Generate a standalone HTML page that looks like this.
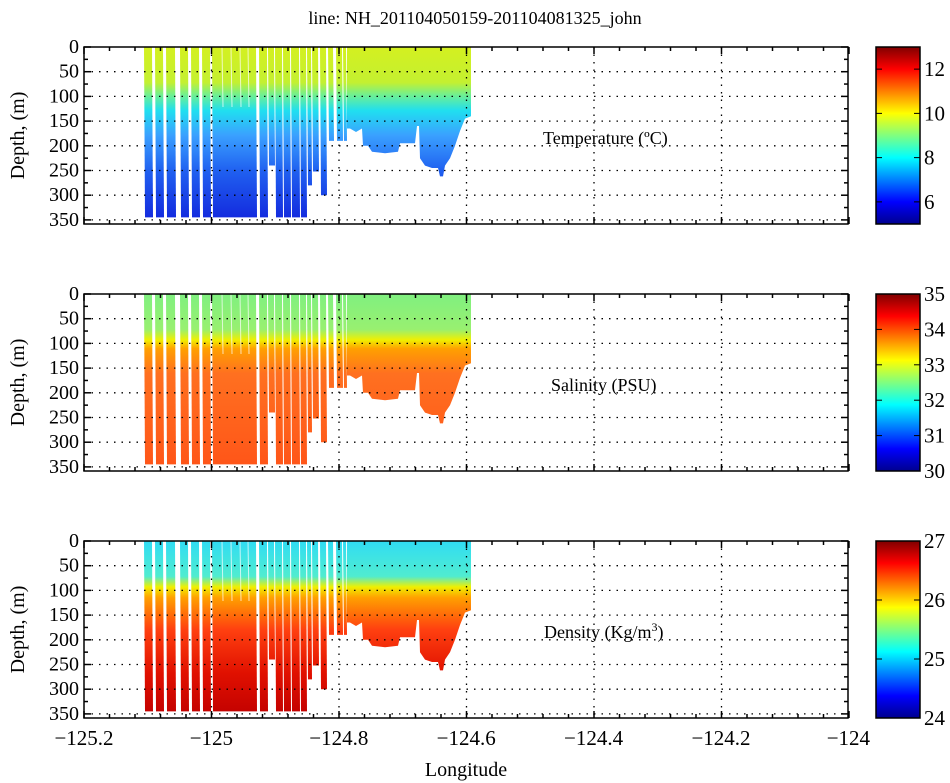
<!DOCTYPE html>
<html><head><meta charset="utf-8"><style>
html,body{margin:0;padding:0;background:#fff;}
svg{display:block;font-family:"Liberation Serif",serif;}
svg text{font-family:"Liberation Serif",serif;}
</style></head><body>
<svg id="s" width="950" height="783" xmlns="http://www.w3.org/2000/svg">
<defs>
<linearGradient id="jet" x1="0" y1="1" x2="0" y2="0">
<stop offset="0" stop-color="#00008f"/><stop offset="0.125" stop-color="#0000ff"/><stop offset="0.375" stop-color="#00ffff"/><stop offset="0.625" stop-color="#ffff00"/><stop offset="0.875" stop-color="#ff0000"/><stop offset="1" stop-color="#800000"/>
</linearGradient>
<linearGradient id="gT" gradientUnits="userSpaceOnUse" x1="0" y1="0" x2="0" y2="177">
<stop offset="0" stop-color="#d4f020"/><stop offset="0.2" stop-color="#c4f030"/><stop offset="0.27" stop-color="#70f090"/><stop offset="0.36" stop-color="#20dff0"/><stop offset="0.5" stop-color="#3aa0ff"/><stop offset="0.7" stop-color="#2060f0"/><stop offset="1" stop-color="#1224dc"/>
</linearGradient>
<linearGradient id="gS" gradientUnits="userSpaceOnUse" x1="0" y1="0" x2="0" y2="177">
<stop offset="0" stop-color="#80f080"/><stop offset="0.2" stop-color="#98f070"/><stop offset="0.26" stop-color="#f0f000"/><stop offset="0.31" stop-color="#ffa000"/><stop offset="0.45" stop-color="#ff7020"/><stop offset="1" stop-color="#ff5418"/>
</linearGradient>
<linearGradient id="gD" gradientUnits="userSpaceOnUse" x1="0" y1="0" x2="0" y2="177">
<stop offset="0" stop-color="#30dcf4"/><stop offset="0.2" stop-color="#50ecd0"/><stop offset="0.26" stop-color="#f0f000"/><stop offset="0.32" stop-color="#ffa000"/><stop offset="0.5" stop-color="#ff4010"/><stop offset="0.75" stop-color="#e01000"/><stop offset="1" stop-color="#c00000"/>
</linearGradient>
</defs>
<text x="475" y="24" font-size="18" text-anchor="middle" font-family="Liberation Serif, serif">line: NH_201104050159-201104081325_john</text>
</svg>
<script>
(function(){
var s=document.getElementById('s'),NS='http://www.w3.org/2000/svg';
function el(t,a,p,txt){var e=document.createElementNS(NS,t);for(var k in a)e.setAttribute(k,a[k]);if(t=='text'||t=='tspan')e.setAttribute('font-family','Liberation Serif, serif');if(txt!==undefined)e.textContent=txt;(p||s).appendChild(e);return e;}
var L=84,R=848,H=177,k=0.494;
function X(lon){return L+(lon+125.2)*637.5;}
var stripes=[[144,152,345],[155,163,345],[166,175,345],[180,188,345],[191,199,345],[202,210,345],[212,256,345],[259,267,345],[268,274,240],[275,282,345],[283,290,345],[291,299,345],[300,306,345],[307,311,280],[312,318,252],[320,326,300],[328,333,190],[336,342,190],[343,346,190]];
var prof=[[347,0],[471,0],[471,140],[465,145],[460,170],[455,200],[450,225],[445,240],[443,262],[440,262],[438,245],[432,245],[425,240],[420,225],[419,160],[417,160],[415,195],[400,195],[398,212],[385,215],[372,212],[368,200],[363,200],[362,165],[356,172],[350,165],[347,165]];
var panels=[{top:47,g:'gT',lab:'Temperature (\u00BAC)',lx:543,cb:[5,13,[12,10,8,6]]},
{top:294,g:'gS',lab:'Salinity (PSU)',lx:551,cb:[30,35,[35,34,33,32,31,30]]},
{top:541,g:'gD',lab:'Density (Kg/m',sup:true,lx:544,cb:[24,27,[27,26,25,24]]}];
panels.forEach(function(p,i){
 var g=el('g',{transform:'translate(0,'+p.top+')'});
 stripes.forEach(function(st){el('polygon',{points:st[0]+',0 '+st[1]+',0 '+(st[1]+1)+','+(st[2]*k)+' '+(st[0]+1)+','+(st[2]*k),fill:'url(#'+p.g+')'},g);});
 el('polygon',{points:prof.map(function(q){return q[0]+','+(q[1]*k).toFixed(1)}).join(' '),fill:'url(#'+p.g+')'},g);
 [222,231,240,248].forEach(function(x){el('line',{x1:x,y1:0,x2:x+1,y2:60,stroke:'#fff','stroke-width':1,opacity:0.7},g);});
 for(var d=50;d<=350;d+=50)el('line',{x1:L,x2:R,y1:d*k,y2:d*k,stroke:'#000','stroke-dasharray':'1.5,6','stroke-width':1.3},g);
 for(var j=1;j<6;j++){var x=X(-125.2+0.2*j);el('line',{x1:x,x2:x,y1:0,y2:H,stroke:'#000','stroke-dasharray':'1.5,6','stroke-width':1.3},g);}
 el('rect',{x:L,y:0,width:R-L,height:H,fill:'none',stroke:'#000','stroke-width':1.5},g);
 for(var d=0;d<=350;d+=25){var y=d*k,len=d%50?4:7;el('line',{x1:L,x2:L+len,y1:y,y2:y,stroke:'#000','stroke-width':1.5},g);el('line',{x1:R,x2:R-len,y1:y,y2:y,stroke:'#000','stroke-width':1.5},g);
  if(d%50==0)el('text',{x:L-5,y:y+6,'font-size':20,'text-anchor':'end'},g,String(d));}
 for(var j=0;j<=30;j++){var x=L+j*25.5,len=j%5?4:7;el('line',{x1:x,x2:x,y1:0,y2:len,stroke:'#000','stroke-width':1.5},g);el('line',{x1:x,x2:x,y1:H,y2:H-len,stroke:'#000','stroke-width':1.5},g);}
 el('text',{x:24,y:H/2,'font-size':20,'text-anchor':'middle',transform:'rotate(-90 24 '+(H/2)+')'},g,'Depth, (m)');
 var t=el('text',{x:p.lx,y:97,'font-size':18},g,p.lab);
 if(p.sup){el('tspan',{dy:-7,'font-size':12},t,'3');el('tspan',{dy:7,'font-size':18},t,')');}
 el('rect',{x:876,y:0,width:44,height:H,fill:'url(#jet)',stroke:'#000','stroke-width':1.5},g);
 var mn=p.cb[0],mx=p.cb[1];p.cb[2].forEach(function(v){var y=H-(v-mn)/(mx-mn)*H;el('line',{x1:920,x2:914,y1:y,y2:y,stroke:'#000'},g);el('line',{x1:876,x2:882,y1:y,y2:y,stroke:'#000'},g);el('text',{x:924,y:y+7,'font-size':21},g,String(v));});
});
var xl=['\u2212125.2','\u2212125','\u2212124.8','\u2212124.6','\u2212124.4','\u2212124.2','\u2212124'];
xl.forEach(function(t,j){el('text',{x:L+j*127.4,y:745,'font-size':21,'text-anchor':'middle'},s,t);});
el('text',{x:466,y:776,'font-size':20,'text-anchor':'middle'},s,'Longitude');
})();
</script>
</body></html>
